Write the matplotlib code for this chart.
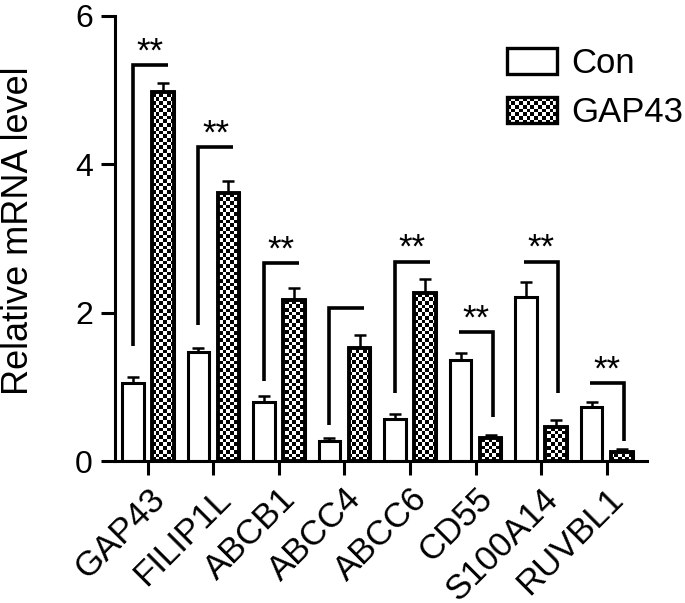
import numpy as np
import matplotlib
matplotlib.use("Agg")
import matplotlib.pyplot as plt
from matplotlib.patches import Rectangle
from matplotlib.legend_handler import HandlerBase

plt.rcParams['font.family'] = ['Liberation Sans', 'DejaVu Sans']

# values
genes = ['GAP43', 'FILIP1L', 'ABCB1', 'ABCC4', 'ABCC6', 'CD55', 'S100A14', 'RUVBL1']
con_mean = [1.05, 1.47, 0.80, 0.27, 0.57, 1.36, 2.22, 0.73]
con_err = [0.08, 0.06, 0.08, 0.04, 0.07, 0.10, 0.19, 0.07]
gap_mean = [4.97, 3.62, 2.17, 1.53, 2.27, 0.31, 0.46, 0.12]
gap_err = [0.13, 0.15, 0.17, 0.17, 0.18, 0.05, 0.09, 0.04]

# significance brackets (low end, high end, label)
bracket_low = [1.55, 1.84, 1.08, 0.49, 0.92, 0.60, 0.92, 0.28]
bracket_high = [5.34, 4.23, 2.67, 2.07, 2.69, 1.74, 2.69, 1.05]
stars = ['**', '**', '**', '', '**', '**', '**', '**']

series = ['Con', 'GAP43']


class CheckerHandler(HandlerBase):
    """Legend handle drawn as a small checkerboard box"""

    def create_artists(self, legend, orig_handle, xdescent, ydescent,
                       width, height, fontsize, trans):
        x0, y0 = -xdescent, -ydescent
        nx = 13
        cw = width / nx
        ny = max(1, int(round(height / cw)))
        ch = height / ny
        arts = [Rectangle((x0, y0), width, height, facecolor='black',
                          edgecolor='none', transform=trans)]
        for i in range(nx):
            for j in range(ny):
                if (i + j) % 2:
                    arts.append(Rectangle((x0 + i * cw, y0 + j * ch), cw, ch,
                                          facecolor='white', edgecolor='none',
                                          transform=trans))
        arts.append(Rectangle((x0, y0), width, height, facecolor='none',
                              edgecolor='black', linewidth=2.4, transform=trans))
        return arts


fig = plt.figure(figsize=(6.85, 6.03), dpi=100)
ax = fig.add_axes([0.168, 0.235, 0.777, 0.7385])

x = np.arange(len(genes))
w = 0.33
off = 0.23
xlim = (-0.5, 7.62)
ylim = (0, 6)
lw = 2.2

# checkerboard texture for the GAP43 bars
checker = (np.indices((120, 144)).sum(axis=0) % 2).astype(float)

ax.errorbar(x - off, con_mean, yerr=[np.zeros(len(x)), con_err], fmt='none',
            ecolor='black', elinewidth=1.8, capsize=4, capthick=1.8, zorder=1)
ax.errorbar(x + off, gap_mean, yerr=[np.zeros(len(x)), gap_err], fmt='none',
            ecolor='black', elinewidth=1.8, capsize=4, capthick=1.8, zorder=1)

ax.bar(x - off, con_mean, w, facecolor='white', edgecolor='black',
       linewidth=lw, zorder=2)
gap_bars = ax.bar(x + off, gap_mean, w, facecolor='white', edgecolor='black',
                  linewidth=lw, zorder=2)
for bar in gap_bars:
    im = ax.imshow(checker, cmap='gray', interpolation='nearest', origin='lower',
                   extent=(xlim[0], xlim[1], ylim[0], ylim[1]), aspect='auto',
                   zorder=2.5)
    im.set_clip_path(bar)
ax.bar(x + off, gap_mean, w, facecolor='none', edgecolor='black',
       linewidth=lw + 0.6, zorder=3)

# brackets
for i in range(len(genes)):
    if gap_mean[i] > con_mean[i]:
        xs = [i - off, i - off, i + 0.30]
        ys = [bracket_low[i], bracket_high[i], bracket_high[i]]
    else:
        xs = [i - 0.26, i + 0.26, i + 0.26]
        ys = [bracket_high[i], bracket_high[i], bracket_low[i]]
    ax.plot(xs, ys, color='black', linewidth=2.6, solid_capstyle='butt',
            solid_joinstyle='miter', zorder=4)
    if stars[i]:
        xc = (min(xs) + max(xs)) / 2
        ax.text(xc, bracket_high[i] + 0.05, stars[i], ha='center',
                va='baseline', fontsize=25)

ax.set_xlim(*xlim)
ax.set_ylim(*ylim)
ax.set_yticks([0, 2, 4, 6])
ax.set_xticks(x)
ax.set_xticklabels(genes, rotation=45, ha='right', rotation_mode='anchor')
ax.tick_params(axis='both', which='major', length=10, width=lw, direction='out')
ax.tick_params(axis='y', labelsize=23, pad=6)
ax.tick_params(axis='x', labelsize=25, pad=5)
ax.set_ylabel('Relative mRNA level', fontsize=26)
ax.yaxis.set_label_coords(-0.148, 0.517)
for side in ['top', 'right']:
    ax.spines[side].set_visible(False)
for side in ['left', 'bottom']:
    ax.spines[side].set_linewidth(lw)

leg_con = Rectangle((0, 0), 1, 1, facecolor='white', edgecolor='black', linewidth=2.4)
leg_gap = Rectangle((0, 0), 1, 1, facecolor='black')
ax.legend([leg_con, leg_gap], series, loc='upper left',
          bbox_to_anchor=(0.737, 0.93), frameon=False, fontsize=25,
          handlelength=1.44, handleheight=0.78, handletextpad=0.4,
          labelspacing=0.47, borderpad=0, borderaxespad=0,
          handler_map={leg_gap: CheckerHandler()})

fig.savefig('out.png', dpi=100)
